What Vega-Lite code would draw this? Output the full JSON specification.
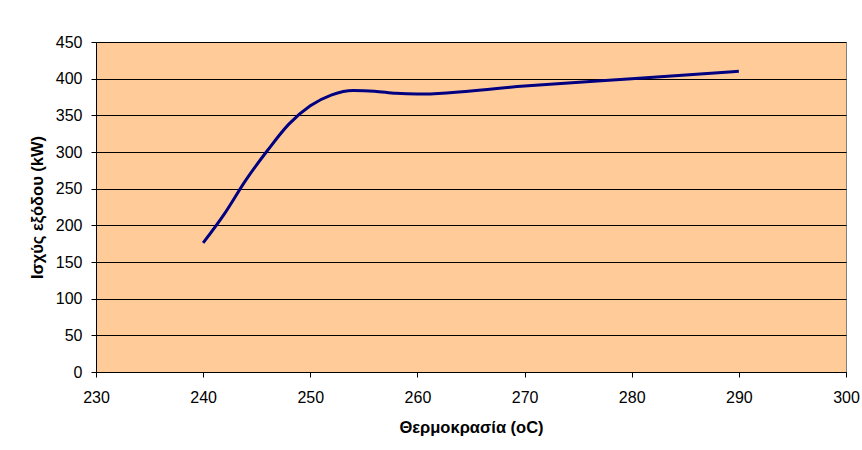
{
  "$schema": "https://vega.github.io/schema/vega-lite/v6.json",
  "width": 750,
  "height": 330,
  "autosize": "none",
  "padding": {"left": 96, "top": 42, "right": 16, "bottom": 78},
  "background": "white",
  "config": {
    "view": {"fill": "#FFCC99", "stroke": "#808080", "strokeWidth": 1},
    "font": "Liberation Sans",
    "axis": {
      "labelFont": "Liberation Sans",
      "titleFont": "Liberation Sans",
      "labelFontSize": 16,
      "titleFontSize": 16.5,
      "titleFontWeight": "bold",
      "labelColor": "black",
      "titleColor": "black",
      "domainColor": "black",
      "tickColor": "black",
      "tickSize": 5,
      "labelFlush": false,
      "gridColor": "black",
      "gridOpacity": 1,
      "gridWidth": 1
    }
  },
  "data": {
    "values": [
      {"t": 240, "p": 176},
      {"t": 242, "p": 216},
      {"t": 244, "p": 262},
      {"t": 246, "p": 302},
      {"t": 248, "p": 338},
      {"t": 250, "p": 363},
      {"t": 252, "p": 378},
      {"t": 254, "p": 384},
      {"t": 256, "p": 383},
      {"t": 258, "p": 380},
      {"t": 260, "p": 379},
      {"t": 270, "p": 390},
      {"t": 280, "p": 400},
      {"t": 290, "p": 410}
    ]
  },
  "mark": {"type": "line", "color": "#000080", "strokeWidth": 3, "interpolate": "monotone"},
  "encoding": {
    "x": {
      "field": "t",
      "type": "quantitative",
      "title": "Θερμοκρασία (oC)",
      "scale": {"domain": [230, 300], "nice": false, "zero": false},
      "axis": {"values": [230, 240, 250, 260, 270, 280, 290, 300], "grid": false, "labelPadding": 12, "titlePadding": 14}
    },
    "y": {
      "field": "p",
      "type": "quantitative",
      "title": "Ισχύς εξόδου (kW)",
      "scale": {"domain": [0, 450], "nice": false},
      "axis": {"values": [0, 50, 100, 150, 200, 250, 300, 350, 400, 450], "grid": true, "labelPadding": 9, "titlePadding": 10}
    }
  }
}
